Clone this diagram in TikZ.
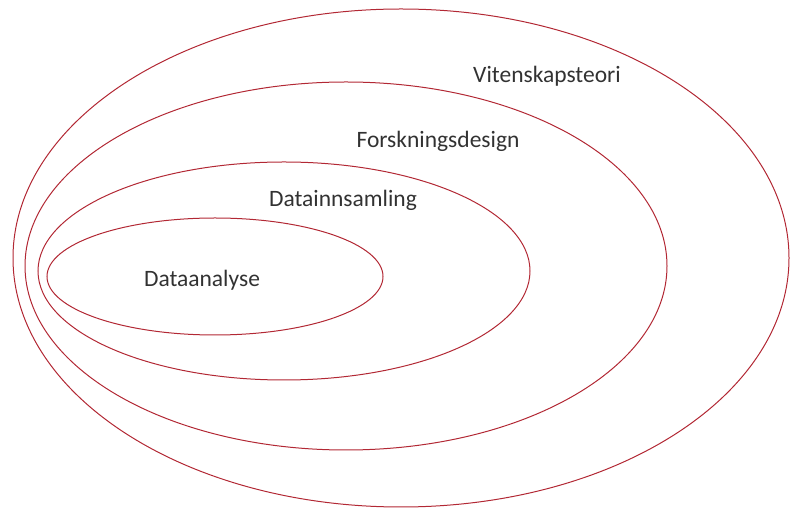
\documentclass[tikz,border=0pt]{standalone}
\usepackage{fontspec}
\setmainfont{Carlito}
\usetikzlibrary{shapes.geometric}
\definecolor{ringred}{RGB}{178,40,52}
\definecolor{labelgray}{RGB}{50,50,50}

\begin{document}
\begin{tikzpicture}[x=1pt,y=1pt,
  ring/.style={ellipse,draw=ringred,line width=1pt,inner sep=0pt},
  lbl/.style={anchor=base,text=labelgray,font=\fontsize{23.5}{28}\selectfont}]
\useasboundingbox (0,0) rectangle (790,511);

% the four levels, outer to inner
\node[ring,minimum width=776,minimum height=498] (teori) at (401,253) {};
\node[ring,minimum width=642,minimum height=368] (design) at (346,245) {};
\node[ring,minimum width=492,minimum height=218] (innsamling) at (284,240) {};
\node[ring,minimum width=336,minimum height=117] (analyse) at (215,234.5) {};

\node[lbl] (teorilbl) at (547,428) {Vitenskapsteori};
\node[lbl] (designlbl) at (438,363) {Forskningsdesign};
\node[lbl] (innsamlinglbl) at (343,304) {Datainnsamling};
\node[lbl] (analyselbl) at (202,224) {Dataanalyse};
\end{tikzpicture}
\end{document}
